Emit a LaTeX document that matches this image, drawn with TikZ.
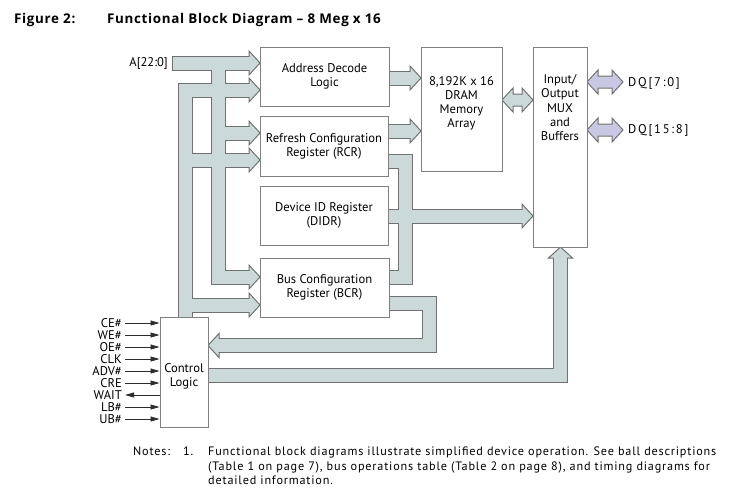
\documentclass[tikz,border=0pt]{standalone}
\usepackage{fontspec}
\setmainfont{PT Sans}
\newfontfamily\titlefont{Open Sans}[LetterSpace=5]
\newfontfamily\notesfont{PT Sans}[LetterSpace=6.6]
\newfontfamily\dqfont{PT Sans}[LetterSpace=14]
\usetikzlibrary{arrows.meta}
\definecolor{busfill}{RGB}{203,217,216}
\definecolor{busedge}{RGB}{112,114,114}
\definecolor{dqfill}{RGB}{200,200,228}
\definecolor{boxedge}{RGB}{128,128,128}
\definecolor{sig}{RGB}{45,45,45}
\newcommand\fsz{\fontsize{12.6}{13.8}\selectfont}
\newcommand\buspaths{
  (173,63) -- (250,63)
  (218,63) -- (218,277) -- (250,277)
  (218,133) -- (250,133)
  (185,317) -- (185,90) -- (250,90)
  (185,160) -- (250,160)
  (185,305) -- (250,305)
  (389,78) -- (411,78)
  (388,131) -- (411,131)
  (388,161) -- (405,161) -- (405,277) -- (389,277)
  (388,216) -- (523,216)
  (389,303.5) -- (429.5,303.5) -- (429.5,345.5) -- (218,345.5)
  (208,375) -- (560.5,375) -- (560.5,257)
}
\newcommand\headR[2]{\filldraw[headst] (#1,#2) -- ++(-11,-12) -- ++(0,24) -- cycle;}
\newcommand\headL[2]{\filldraw[headst] (#1,#2) -- ++(11,-12) -- ++(0,24) -- cycle;}
\newcommand\headU[2]{\filldraw[headst] (#1,#2) -- ++(-12,11) -- ++(24,0) -- cycle;}
\tikzset{
  box/.style={draw=boxedge, fill=white, line width=0.9pt, inner sep=0pt},
  boxtext/.style={align=center, font=\fsz, inner sep=0pt},
  headst/.style={draw=busedge, fill=busfill, line width=1pt, line join=miter},
  sigline/.style={draw=sig, line width=0.8pt},
  sigtip/.style={-{Triangle[length=9pt,width=5pt]}},
  lbl/.style={font=\fsz, inner sep=0pt},
  dqlbl/.style={font=\dqfont\fontsize{12.6}{13.8}\selectfont, inner sep=0pt},
  notestyle/.style={font=\notesfont\fontsize{12.2}{14}\selectfont, inner sep=0pt},
  titlestyle/.style={font=\titlefont\bfseries\fontsize{13.4}{15}\selectfont, inner sep=0pt},
}
\begin{document}
\begin{tikzpicture}[x=1pt,y=-1pt]
\useasboundingbox (0,0) rectangle (748,501);
\fill[white] (0,0) rectangle (748,501);

% title
\node[titlestyle, anchor=base west] (fig) at (14,23) {Figure 2:};
\node[titlestyle, anchor=base west] (title) at (107,23) {Functional Block Diagram – 8 Meg x 16};

% buses: outline pass
\draw[busedge, line width=15pt, line join=miter] \buspaths;
\draw[busedge, line width=15pt] (172,63) -- (174,63);
% arrow heads
\headR{260}{63}
\headR{260}{90}
\headR{260}{133}
\headR{260}{160}
\headR{260}{277}
\headR{260}{305}
\headR{421}{78}
\headR{421}{131}
\headR{533}{216}
\headL{208}{345.5}
\headU{560.5}{247}
% buses: fill pass
\draw[busfill, line width=13pt, line join=miter] \buspaths;

% double arrows
\filldraw[draw=busedge, fill=busfill, line width=1pt, line join=miter]
  (502,100) -- (513,88) -- (513,94) -- (522,94) -- (522,88) -- (533,100)
  -- (522,112) -- (522,106) -- (513,106) -- (513,112) -- cycle;
\filldraw[draw=busedge, fill=dqfill, line width=1pt, line join=miter]
  (587,82) -- (598,70) -- (598,76) -- (612,76) -- (612,70) -- (623,82)
  -- (612,94) -- (612,88) -- (598,88) -- (598,94) -- cycle;
\filldraw[draw=busedge, fill=dqfill, line width=1pt, line join=miter]
  (587,130) -- (598,118) -- (598,124) -- (612,124) -- (612,118) -- (623,130)
  -- (612,142) -- (612,136) -- (598,136) -- (598,142) -- cycle;

% boxes
\node[box, minimum width=129pt, minimum height=59pt] (ADL) at (324.5,76.5) {};
\node[boxtext] at (ADL.center) {Address Decode\\Logic};
\node[box, minimum width=128pt, minimum height=60pt] (RCR) at (324,146) {};
\node[boxtext] at (RCR.center) {Refresh Configuration\\Register (RCR)};
\node[box, minimum width=128pt, minimum height=59pt] (DIDR) at (324,215.5) {};
\node[boxtext] at (DIDR.center) {Device ID Register\\(DIDR)};
\node[box, minimum width=129pt, minimum height=59pt] (BCR) at (324.5,287.5) {};
\node[boxtext] at (BCR.center) {Bus Configuration\\Register (BCR)};
\node[box, minimum width=81pt, minimum height=124pt] (DRAM) at (461.5,109) {};
\node[boxtext, anchor=north, font=\fontsize{12.6}{14}\selectfont] (DRAMt) at (461.5,76.5) {8,192K x 16\\DRAM\\Memory\\Array};
\node[box, minimum width=54pt, minimum height=200pt] (IO) at (560,147) {};
\node[boxtext, anchor=north, font=\fontsize{12.6}{14.25}\selectfont] (IOt) at (560,74.5) {Input/\\Output\\MUX\\and\\Buffers};
\node[box, minimum width=48pt, minimum height=110pt] (CL) at (184,372) {};
\node[boxtext] at (184,376) {Control\\Logic};

% labels
\node[lbl, anchor=east] (A) at (168,63) {A[22:0]};
\node[dqlbl, anchor=west] (DQa) at (628,83) {DQ[7:0]};
\node[dqlbl, anchor=west] (DQb) at (628,130) {DQ[15:8]};

% control signals
\foreach \nm/\yy in {CE\#/323, WE\#/335, OE\#/347, CLK/359, ADV\#/371, CRE/383, LB\#/407, UB\#/419}{
  \coordinate (s) at (125,\yy);
  \node[lbl, anchor=base east] at (122,\yy+4.4) {\nm};
  \draw[sigline, sigtip] (s) -- (s -| CL.west);
}
\coordinate (wait) at (125,395);
\node[lbl, anchor=base east] (waitl) at (122,399.4) {WAIT};
\draw[sigline, sigtip] (wait -| CL.west) -- (wait);

% notes
\node[notestyle, anchor=base west] (notes) at (133,455) {Notes:};
\node[notestyle, anchor=base west] (n1) at (183,455) {1.};
\node[notestyle, anchor=base west] (l1) at (208,455) {Functional block diagrams illustrate simplified device operation. See ball descriptions};
\node[notestyle, anchor=base west] (l2) at (208,470) {(Table 1 on page 7), bus operations table (Table 2 on page 8), and timing diagrams for};
\node[notestyle, anchor=base west] (l3) at (208,484) {detailed information.};
\end{tikzpicture}
\end{document}
